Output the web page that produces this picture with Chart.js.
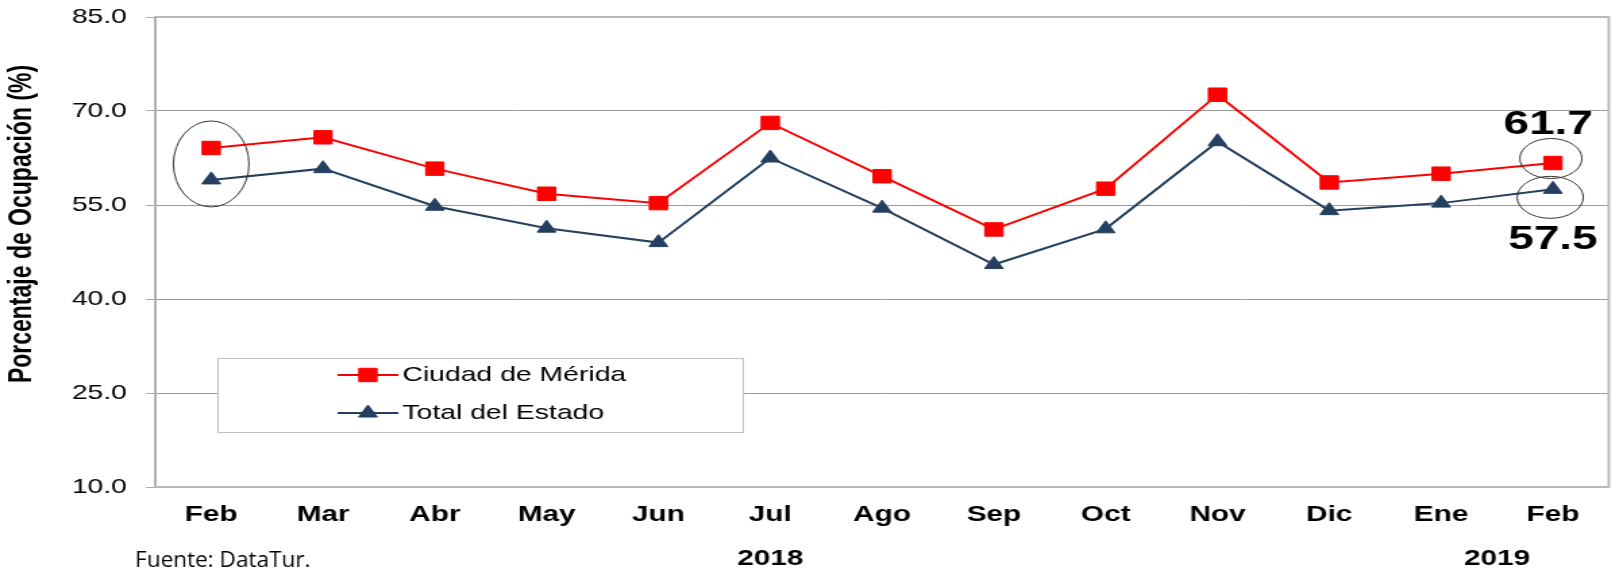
<!DOCTYPE html>
<html>
<head>
<meta charset="utf-8">
<script src="https://cdn.jsdelivr.net/npm/chart.js"></script>
<style>
  body { margin: 0; background: #fff; }
</style>
</head>
<body>
<!-- the reference is a horizontally stretched picture, so the canvas is drawn narrow and widened by css -->
<canvas id="myChart" width="1202" height="573" style="width:1623px;height:573px;display:block"></canvas>
<script>
let months = ['Feb', 'Mar', 'Abr', 'May', 'Jun', 'Jul', 'Ago', 'Sep', 'Oct', 'Nov', 'Dic', 'Ene', 'Feb'];
let years = ['2018', '2019'];
let yearIndex = [5, 11.5];
let merida = [64.1, 65.8, 60.8, 56.8, 55.3, 68.1, 59.6, 51.1, 57.6, 72.6, 58.6, 60.0, 61.7];
let estado = [59.0, 60.8, 54.8, 51.3, 49.0, 62.5, 54.5, 45.5, 51.2, 65.1, 54.1, 55.3, 57.5];
let yMin = 10;
let yMax = 85;
let yStep = 15;

const FONT = "'Liberation Sans', Arial, sans-serif";

function marker(ctx, ds, x, y) {
    ctx.save();
    ctx.fillStyle = ds.pointBackgroundColor;
    ctx.strokeStyle = ds.pointBorderColor;
    ctx.lineWidth = 1;
    Chart.helpers.drawPoint(ctx, {
        pointStyle: ds.pointStyle,
        radius: ds.pointRadius,
        rotation: 0,
        borderWidth: 1
    }, x, y);
    ctx.restore();
}

let decor = {
    id: 'decor',
    beforeDatasetsDraw(chart) {
        const {ctx, chartArea: a} = chart;
        ctx.save();
        ctx.strokeStyle = '#b9b9b9';
        ctx.lineWidth = 2;
        ctx.strokeRect(a.left, a.top, a.right - a.left, a.bottom - a.top);
        ctx.strokeStyle = '#b0b0b0';
        ctx.beginPath();
        ctx.moveTo(a.left, a.top);
        ctx.lineTo(a.left, a.bottom);
        ctx.stroke();
        ctx.restore();
    },
    afterDatasetsDraw(chart) {
        const {ctx} = chart;
        const xs = chart.scales.x, ys = chart.scales.y;
        const last = months.length - 1;
        ctx.save();
        ctx.strokeStyle = '#333';
        ctx.lineWidth = 1;

        // circle round the first month
        let x0 = xs.getPixelForValue(0);
        let y0 = (ys.getPixelForValue(merida[0]) + ys.getPixelForValue(estado[0])) / 2;
        ctx.beginPath();
        ctx.ellipse(x0, y0, 28, 43, 0, 0, Math.PI * 2);
        ctx.stroke();

        // circles round the last month
        let xl = xs.getPixelForValue(last);
        let yr = ys.getPixelForValue(merida[last]);
        let yb = ys.getPixelForValue(estado[last]);
        ctx.beginPath();
        ctx.ellipse(xl - 1.5, yr - 4.5, 23, 20, 0, 0, Math.PI * 2);
        ctx.stroke();
        ctx.beginPath();
        ctx.ellipse(xl - 2, yb + 8, 24.5, 21, 0, 0, Math.PI * 2);
        ctx.stroke();

        // value labels
        ctx.fillStyle = '#000';
        ctx.font = 'bold 34px ' + FONT;
        ctx.textAlign = 'center';
        ctx.textBaseline = 'middle';
        ctx.fillText(merida[last].toFixed(1), xl - 3.5, yr - 38);
        ctx.fillText(estado[last].toFixed(1), xl, yb + 50);

        // legend inside the plot
        ctx.fillStyle = '#fff';
        ctx.fillRect(161, 358, 389, 74);
        ctx.strokeStyle = '#c0c0c0';
        ctx.strokeRect(161.5, 358.5, 389, 74);
        ctx.font = '21px ' + FONT;
        ctx.textAlign = 'left';
        chart.data.datasets.forEach((ds, i) => {
            let y = 375 + i * 38;
            ctx.strokeStyle = ds.borderColor;
            ctx.lineWidth = ds.borderWidth;
            ctx.beginPath();
            ctx.moveTo(250, y);
            ctx.lineTo(295, y);
            ctx.stroke();
            marker(ctx, ds, 272.5, y);
            ctx.fillStyle = '#000';
            ctx.fillText(ds.label, 298, y);
        });
        ctx.restore();
    },
    afterDraw(chart) {
        const {ctx} = chart;
        const xs = chart.scales.x;
        ctx.save();
        ctx.fillStyle = '#000';
        ctx.textAlign = 'center';
        ctx.textBaseline = 'middle';

        ctx.save();
        ctx.translate(17, 224);
        ctx.rotate(-Math.PI / 2);
        ctx.font = 'bold 23px ' + FONT;
        ctx.fillText('Porcentaje de Ocupación (%)', 0, 0);
        ctx.restore();

        ctx.font = 'bold 22px ' + FONT;
        years.forEach((yr, i) => {
            ctx.fillText(yr, xs.getPixelForValue(yearIndex[i]), 559);
        });

        // source note, a narrow face in the original
        ctx.save();
        ctx.translate(100, 561);
        ctx.scale(0.76, 1);
        ctx.textAlign = 'left';
        ctx.font = "22px 'Open Sans', sans-serif";
        ctx.fillText('Fuente: DataTur.', 0, 0);
        ctx.restore();
        ctx.restore();
    }
};

let ctx = document.getElementById('myChart').getContext('2d');

let chart = new Chart(ctx, {
    type: 'line',
    data: {
        labels: months,
        datasets: [{
            label: 'Ciudad de Mérida',
            data: merida,
            borderColor: '#ff0000',
            borderWidth: 2,
            pointStyle: 'rect',
            pointRadius: 9.5,
            pointBackgroundColor: '#ff0000',
            pointBorderColor: '#ff0000',
            pointBorderWidth: 1,
            tension: 0
        }, {
            label: 'Total del Estado',
            data: estado,
            borderColor: '#243f60',
            borderWidth: 2,
            pointStyle: 'triangle',
            pointRadius: 8,
            pointBackgroundColor: '#243f60',
            pointBorderColor: '#243f60',
            pointBorderWidth: 1,
            tension: 0
        }]
    },
    options: {
        responsive: false,
        animation: false,
        devicePixelRatio: 1,
        layout: {
            padding: {left: 0, right: 6, top: 17, bottom: 0}
        },
        plugins: {
            legend: {display: false},
            tooltip: {enabled: false}
        },
        scales: {
            x: {
                offset: true,
                grid: {display: false, drawTicks: false},
                border: {display: false},
                ticks: {
                    color: '#000',
                    padding: 15,
                    font: {family: FONT, size: 22, weight: 'bold'}
                },
                afterFit(scale) { scale.height = 86; }
            },
            y: {
                min: yMin,
                max: yMax,
                grid: {
                    color: (c) => (c.tick && (c.tick.value === yMin || c.tick.value === yMax)) ? '#b9b9b9' : '#9a9a9a',
                    tickColor: '#a8a8a8',
                    tickLength: 7,
                    lineWidth: 1
                },
                border: {display: false},
                ticks: {
                    stepSize: yStep,
                    color: '#000',
                    padding: 14,
                    font: {family: FONT, size: 21},
                    callback: (v) => v.toFixed(1)
                },
                afterFit(scale) {
                    scale.width = 115;
                    scale.paddingTop = 0;
                }
            }
        }
    },
    plugins: [decor]
});
</script>
</body>
</html>
